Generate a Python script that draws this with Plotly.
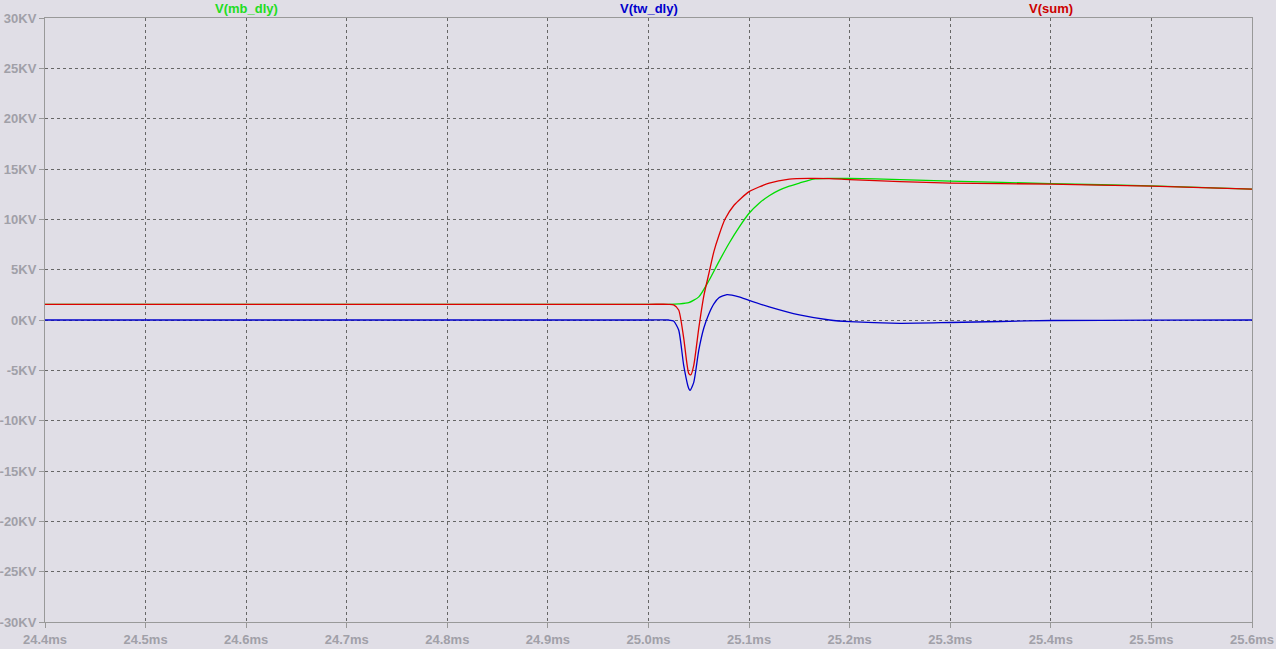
import plotly.graph_objects as go

# time in ms, voltage in kV
t_mb = [24.4, 25.0, 25.02, 25.03, 25.04, 25.05, 25.06, 25.07, 25.08, 25.09, 25.1, 25.11, 25.12,
        25.13, 25.14, 25.15, 25.164, 25.18, 25.2, 25.25, 25.3, 25.4, 25.5, 25.6]
v_mb = [1.56, 1.56, 1.56, 1.6, 1.72, 2.3, 3.9, 5.8, 7.6, 9.2, 10.6, 11.6, 12.35,
        12.9, 13.3, 13.6, 14.0, 14.07, 14.07, 13.95, 13.8, 13.55, 13.32, 13.0]

t_tw = [24.4, 25.0, 25.02, 25.025, 25.03, 25.035, 25.04, 25.0413, 25.045, 25.05, 25.055, 25.06,
        25.065, 25.07, 25.078, 25.09, 25.1, 25.12, 25.15, 25.18, 25.2, 25.25, 25.3, 25.35, 25.4,
        25.5, 25.6]
v_tw = [0.0, 0.0, 0.0, -0.1, -1.0, -4.5, -6.8, -7.0, -6.2, -3.0, -0.8, 0.6,
        1.6, 2.2, 2.52, 2.3, 1.95, 1.3, 0.5, 0.0, -0.17, -0.33, -0.25, -0.15, -0.05,
        -0.02, 0.0]

t_sum = [24.4, 25.0, 25.02, 25.025, 25.03, 25.035, 25.04, 25.042, 25.045, 25.05, 25.055, 25.06,
         25.065, 25.07, 25.076, 25.085, 25.1, 25.12, 25.14, 25.16, 25.18, 25.2, 25.25, 25.3,
         25.4, 25.45, 25.5, 25.6]
v_sum = [1.56, 1.56, 1.56, 1.5, 1.0, -1.8, -5.3, -5.45, -4.5, -0.8, 2.4, 4.6,
         6.8, 8.4, 10.0, 11.4, 12.75, 13.6, 14.0, 14.07, 14.05, 13.95, 13.75, 13.6,
         13.5, 13.4, 13.3, 13.0]

x_ticks = [24.4, 24.5, 24.6, 24.7, 24.8, 24.9, 25.0, 25.1, 25.2, 25.3, 25.4, 25.5, 25.6]
x_labels = ["24.4ms", "24.5ms", "24.6ms", "24.7ms", "24.8ms", "24.9ms", "25.0ms",
            "25.1ms", "25.2ms", "25.3ms", "25.4ms", "25.5ms", "25.6ms"]
y_ticks = [30, 25, 20, 15, 10, 5, 0, -5, -10, -15, -20, -25, -30]
y_labels = ["30KV", "25KV", "20KV", "15KV", "10KV", "5KV", "0KV", "-5KV", "-10KV",
            "-15KV", "-20KV", "-25KV", "-30KV"]

names = ["V(mb_dly)", "V(tw_dly)", "V(sum)"]
colors = ["#00DD00", "#0000CC", "#DD0000"]
title_colors = ["#22DD22", "#0000CC", "#CC0000"]
title_pos = [24.6, 25.0, 25.4]

bg = "#E0DEE6"
fig = go.Figure()
for tx, vy, c, n in [(t_mb, v_mb, colors[0], names[0]), (t_tw, v_tw, colors[1], names[1]),
                     (t_sum, v_sum, colors[2], names[2])]:
    fig.add_trace(go.Scatter(x=tx, y=vy, mode="lines", name=n,
                             line=dict(color=c, width=1.3, shape="spline", smoothing=0.6)))

for n, c, p in zip(names, title_colors, title_pos):
    fig.add_annotation(x=p, xref="x", y=1, yref="paper", yanchor="bottom", text=n,
                       showarrow=False, yshift=0,
                       font=dict(family="Liberation Sans", size=13, color=c, weight="bold"))

axis_common = dict(showgrid=True, gridcolor="#666666", griddash="3px,3px", gridwidth=1,
                   showline=True, linecolor="#999999", linewidth=1, mirror=True,
                   ticks="outside", ticklen=5, tickcolor="#999999", zeroline=False,
                   automargin=False,
                   tickfont=dict(family="Liberation Sans", size=13, color="#A0A0A8", weight="bold"))

fig.update_layout(
    width=1276, height=649,
    margin=dict(l=45, r=24, t=18, b=27),
    paper_bgcolor=bg, plot_bgcolor=bg,
    showlegend=False,
    xaxis=dict(range=[24.4, 25.6], tickvals=x_ticks, ticktext=x_labels, **axis_common),
    yaxis=dict(range=[-30, 30], tickvals=y_ticks, ticktext=y_labels, **axis_common),
)
fig.update_xaxes(ticklabelstandoff=0)
fig.update_yaxes(ticklabelstandoff=0)

fig.write_html("out.html", config={"displayModeBar": False},
               post_script="document.body.style.margin='0';document.body.style.background='%s';" % bg)
